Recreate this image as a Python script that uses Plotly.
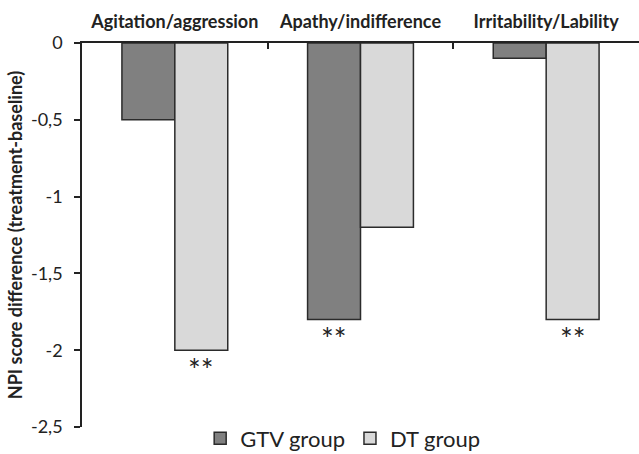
import plotly.graph_objects as go

categories = ["Agitation/aggression", "Apathy/indifference", "Irritability/Lability"]
gtv_values = [-0.5, -1.8, -0.1]
dt_values = [-2.0, -1.2, -1.8]
gtv_sig = [False, True, False]
dt_sig = [True, False, True]
y_tick_vals = [0, -0.5, -1, -1.5, -2, -2.5]
y_tick_text = ["0", "-0,5", "-1", "-1,5", "-2", "-2,5"]

FONT = "Lato"
BARGAP = 0.43
bar_w = (1 - BARGAP) / 2

fig = go.Figure()
fig.add_trace(go.Bar(name="GTV group", x=categories, y=gtv_values,
                     marker=dict(color="#808080", line=dict(color="#2b2b2b", width=1.5))))
fig.add_trace(go.Bar(name="DT group", x=categories, y=dt_values,
                     marker=dict(color="#d9d9d9", line=dict(color="#2b2b2b", width=1.5))))

annotations = []
for i, cat in enumerate(categories):
    for vals, sig, off in ((gtv_values, gtv_sig, -bar_w / 2), (dt_values, dt_sig, bar_w / 2)):
        if sig[i]:
            annotations.append(dict(x=i + off, y=vals[i], xref="x", yref="y",
                                    text="**", showarrow=False, yshift=-19,
                                    yanchor="middle",
                                    font=dict(family=FONT, size=30, color="#222")))

fig.update_layout(
    width=639, height=454,
    margin=dict(l=82, r=0, t=43, b=27, autoexpand=False),
    paper_bgcolor="white", plot_bgcolor="white",
    barmode="group", bargap=BARGAP, bargroupgap=0,
    font=dict(family=FONT, color="#222"),
    showlegend=True,
    legend=dict(orientation="h", x=0.468, xanchor="center", y=0.025, yanchor="top",
                font=dict(family=FONT, size=22, color="#222"),
                itemwidth=30, tracegroupgap=0, bgcolor="rgba(0,0,0,0)"),
    annotations=annotations,
)
fig.update_xaxes(side="top", type="category", range=[-0.5, 2.5],
                 showline=True, linecolor="#222", linewidth=1.5,
                 ticks="inside", tickson="boundaries", ticklen=6, tickcolor="#222", tickwidth=1.5,
                 tickfont=dict(family=FONT, size=18, color="#222", weight="bold"),
                 ticklabelstandoff=6, showgrid=False, zeroline=False, automargin=False)
fig.update_yaxes(range=[-2.5, 0], tickvals=y_tick_vals, ticktext=y_tick_text,
                 showline=True, linecolor="#222", linewidth=1.5,
                 ticks="outside", ticklen=6, tickcolor="#222", tickwidth=1.5,
                 tickfont=dict(family=FONT, size=18, color="#222"),
                 ticklabelstandoff=8,
                 title=dict(text="NPI score difference (treatment-baseline)",
                            font=dict(family=FONT, size=18, color="#222", weight="bold"),
                            standoff=4),
                 showgrid=False, zeroline=False, automargin=False)

fig.write_html("out.html")
